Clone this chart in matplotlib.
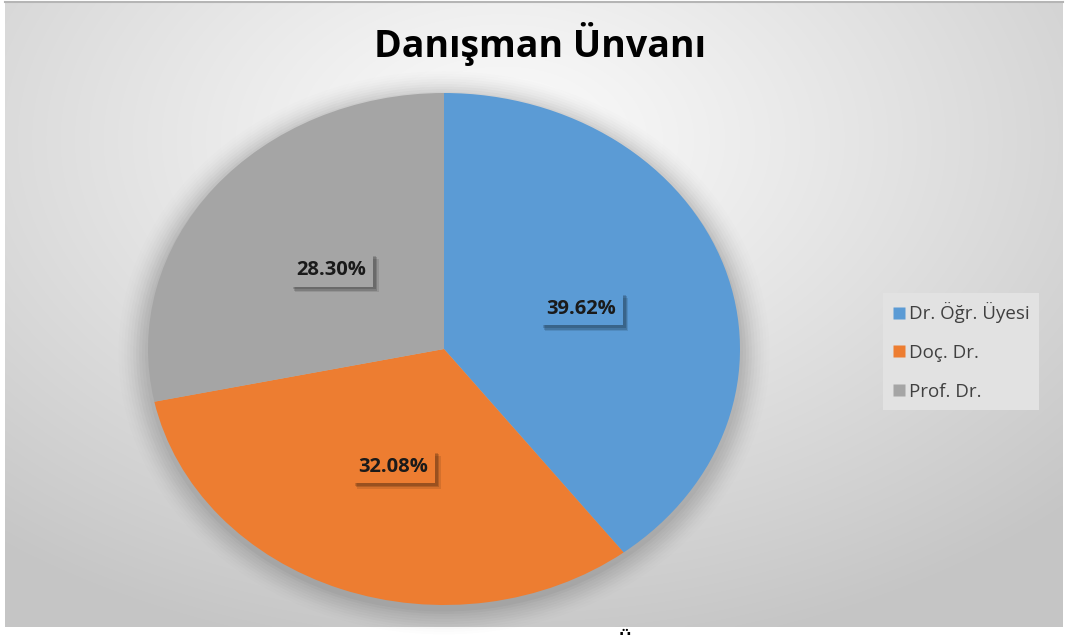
import numpy as np
import matplotlib
matplotlib.use("Agg")
import matplotlib.pyplot as plt
from matplotlib.patches import Ellipse
from matplotlib.lines import Line2D
import matplotlib.patheffects as pe

plt.rcParams['font.family'] = ['Open Sans', 'DejaVu Sans']

title = "Danışman Ünvanı"
categories = ["Dr. Öğr. Üyesi", "Doç. Dr.", "Prof. Dr."]
values = [39.62, 32.08, 28.30]
colors = ["#5B9BD5", "#ED7D31", "#A5A5A5"]

W, H = 1065, 635
fig = plt.figure(figsize=(W / 100, H / 100), dpi=100)
fig.patch.set_facecolor("white")

# background chart area with radial gradient
bx0, by0, bx1, by1 = 5, 1, 1063, 627
bg = fig.add_axes([bx0 / W, (H - by1) / H, (bx1 - bx0) / W, (by1 - by0) / H])
ny, nx = 300, 500
yy, xx = np.mgrid[0:ny, 0:nx]
cx, cy = nx * 0.47, ny * 0.22
d = np.sqrt(((xx - cx) / nx) ** 2 + ((yy - cy) / ny * 0.9) ** 2)
d = np.clip(d / 0.75, 0, 1)
v = 0.985 - 0.21 * d ** 1.1
img = np.dstack([v, v, v])
bg.imshow(img, aspect="auto", extent=[0, 1, 0, 1], origin="upper", interpolation="bilinear")
bg.set_xlim(0, 1)
bg.set_ylim(0, 1)
bg.axis("off")
fig.add_artist(Line2D([bx0 / W, bx1 / W], [(H - 1.5) / H] * 2, color="#b5b5b5", lw=1.5))

# pie axes (elliptical pie)
px0, px1, py0, py1 = 148, 740, 93, 605
ax = fig.add_axes([px0 / W, (H - py1) / H, (px1 - px0) / W, (py1 - py0) / H])
ax.patch.set_alpha(0)

# soft shadow around the pie
for i, a in enumerate(np.linspace(0.05, 0.01, 10)):
    s = 1.0 + 0.01 * (i + 1)
    ax.add_patch(Ellipse((0, -0.015), 2 * s, 2 * s, color="black", alpha=a * 0.6,
                         lw=0, zorder=0, clip_on=False))

wedges, texts, autotexts = ax.pie(
    values, colors=colors, startangle=90, counterclock=False,
    autopct="%.2f%%", pctdistance=0.49, radius=1.0,
    wedgeprops=dict(linewidth=0, edgecolor="none"),
    textprops=dict(fontsize=14.5, fontweight="bold", color="#1a1a1a"),
)
for w in wedges:
    w.set_zorder(2)
    w.set_clip_on(False)
for t, c in zip(autotexts, colors):
    t.set_zorder(5)
    t.set_bbox(dict(boxstyle="square,pad=0.33", fc=c, ec="none"))
    t.get_bbox_patch().set_path_effects([
        pe.SimplePatchShadow(offset=(4, -4), shadow_rgbFace="black", alpha=0.10),
        pe.SimplePatchShadow(offset=(3, -3), shadow_rgbFace="black", alpha=0.15),
        pe.SimplePatchShadow(offset=(2, -2), shadow_rgbFace="black", alpha=0.15),
        pe.Normal(),
    ])
ax.set_aspect("auto")
ax.set_xlim(-1, 1)
ax.set_ylim(-1, 1)
ax.axis("off")

# title
fig.text(540 / W, (H - 44) / H, title, ha="center", va="center",
         fontsize=27, fontweight="bold", color="black")

# legend
handles = [Line2D([0], [0], marker="s", linestyle="none", markersize=8,
                  markerfacecolor=c, markeredgecolor="none") for c in colors]
leg = fig.legend(handles, categories, loc="upper left",
                 bbox_to_anchor=(883 / W, (H - 293) / H),
                 frameon=True, fontsize=13.5, labelspacing=1.1,
                 handletextpad=0.2, handlelength=0.7, borderpad=0.5,
                 borderaxespad=0, fancybox=False, labelcolor="#404040")
leg.get_frame().set_facecolor("#e2e2e2")
leg.get_frame().set_edgecolor("none")
leg.get_frame().set_alpha(1)

# cut-off caption at the bottom
fig.text(625 / W, (H - 631) / H, "Ü", ha="center", va="top", fontsize=12,
         fontweight="bold", color="black")

fig.savefig("out.png", dpi=100)
